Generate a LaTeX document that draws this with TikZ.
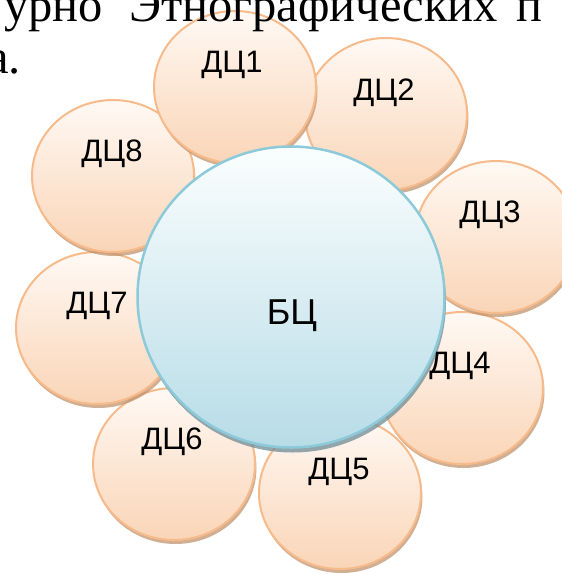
\documentclass[tikz,border=0pt]{standalone}
\usepackage{fontspec}
\setmainfont{Liberation Sans}
\newfontfamily\bodyserif{Liberation Serif}
\usetikzlibrary{shapes.geometric,shadows}

\definecolor{petalline}{HTML}{F7BA8A}
\definecolor{petaltop}{HTML}{FFF9F4}
\definecolor{petalbottom}{HTML}{FAD5B7}
\definecolor{petalshadow}{HTML}{C2946F}
\definecolor{coreline}{HTML}{8CCAD9}
\definecolor{coretop}{HTML}{FBFEFE}
\definecolor{corebottom}{HTML}{B7DCE7}
\definecolor{coreshadow}{HTML}{6F8C96}

\tikzset{
  petal/.style={ellipse, inner sep=0pt, minimum width=162pt, minimum height=152pt,
    draw=petalline, line width=2pt, top color=petaltop, bottom color=petalbottom,
    drop shadow={shadow xshift=1.5pt, shadow yshift=-4pt, fill=petalshadow, opacity=0.75}},
  core/.style={ellipse, inner sep=0pt, minimum width=307pt, minimum height=301pt,
    draw=coreline, line width=2.5pt, top color=coretop, bottom color=corebottom,
    drop shadow={shadow xshift=1.5pt, shadow yshift=-5pt, fill=coreshadow, opacity=0.75}},
  petallabel/.style={anchor=base, inner sep=0pt, font=\fontsize{31}{31}\selectfont},
  corelabel/.style={anchor=base, inner sep=0pt, font=\fontsize{36}{36}\selectfont},
  prose/.style={anchor=base west, inner sep=0pt, font=\bodyserif\fontsize{48.5}{48.5}\selectfont}
}

\begin{document}
\begin{tikzpicture}[x=1pt, y=-1pt]
  \useasboundingbox (0,0) rectangle (562,574);
  \clip (0,0) rectangle (562,574);

  % outer circles, in stacking order
  \node[petal] (d4) at (462,388) {};
  \node[petal] (d5) at (340,493) {};
  \node[petal] (d6) at (174,464) {};
  \node[petal] (d7) at (97,328) {};
  \node[petal] (d8) at (113,176) {};
  \node[petal] (d3) at (496,237) {};
  \node[petal] (d2) at (386,114) {};
  \node[petal] (d1) at (235,87) {};

  % central circle
  \node[core] (bc) at (291,297) {};

  % labels
  \node[petallabel] (l1) at (232,72) {ДЦ1};
  \node[petallabel] (l2) at (384,100) {ДЦ2};
  \node[petallabel] (l3) at (490,222) {ДЦ3};
  \node[petallabel] (l4) at (460,373) {ДЦ4};
  \node[petallabel] (l5) at (339,479) {ДЦ5};
  \node[petallabel] (l6) at (172,449) {ДЦ6};
  \node[petallabel] (l7) at (97,313) {ДЦ7};
  \node[petallabel] (l8) at (112,161) {ДЦ8};
  \node[corelabel] (lbc) at (292,324) {БЦ};

  % justified paragraph lines above the figure
  \node[prose] (w1) at (4,21) {урно};
  \node[prose] (w2) at (129,21) {Этнографических};
  \node[prose] (w3) at (516,21) {п};
  \node[prose] (w4) at (-13,73) {а.};
\end{tikzpicture}
\end{document}
